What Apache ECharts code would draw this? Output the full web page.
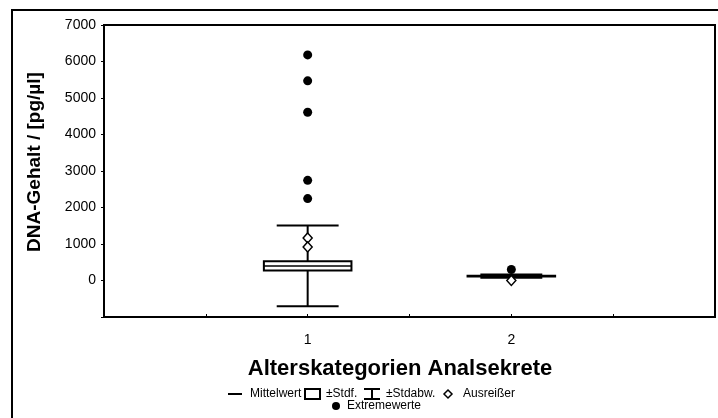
<!DOCTYPE html>
<html>
<head>
<meta charset="utf-8">
<script src="https://cdn.jsdelivr.net/npm/echarts@6/dist/echarts.min.js"></script>
<style>
  html, body { margin: 0; padding: 0; background: #fff; }
  #chart { width: 718px; height: 418px; }
</style>
</head>
<body>
<div id="chart"></div>
<script>
// Age categories (x positions) and their summary statistics, DNA content in pg/µl
const categories = [1, 2];
const means = [400, 120];
const stdErr = [128, 8];
const stdDev = [1105, 45];

// Single points: outliers (open diamonds) and extreme values (filled dots)
const outliers = [[1, 1165], [1, 918], [2, 0]];
const extremes = [[1, 6180], [1, 5470], [1, 4610], [1, 2745], [1, 2245], [2, 300]];

// Axis ranges and tick labels
const yMin = -1000, yMax = 7000, yStep = 1000;
const xMin = 0, xMax = 3, xStep = 0.5;
const xTickLabels = { 1: '1', 2: '2' };

const FONT = 'Liberation Sans, Arial, sans-serif';
const BOX_HALF = 0.215;   // half width of the ±SE box, in category units
const CAP_HALF = 0.152;   // half width of the ±SD whisker caps

const boxData = categories.map((c, i) => [c, means[i], stdErr[i], stdDev[i]]);

function renderBox(params, api) {
  const x = api.value(0), m = api.value(1), se = api.value(2), sd = api.value(3);
  const top = api.coord([x, m + sd]);
  const bot = api.coord([x, m - sd]);
  const capL = api.coord([x - CAP_HALF, m])[0];
  const capR = api.coord([x + CAP_HALF, m])[0];
  const b1 = api.coord([x - BOX_HALF, m + se]);
  const b2 = api.coord([x + BOX_HALF, m - se]);
  const mid = api.coord([x, m]);
  const stroke = { stroke: '#000', lineWidth: 2 };
  return {
    type: 'group',
    children: [
      { type: 'line', shape: { x1: top[0], y1: top[1], x2: bot[0], y2: bot[1] }, style: stroke },
      { type: 'line', shape: { x1: capL, y1: top[1], x2: capR, y2: top[1] }, style: stroke },
      { type: 'line', shape: { x1: capL, y1: bot[1], x2: capR, y2: bot[1] }, style: stroke },
      { type: 'rect', shape: { x: b1[0], y: b1[1], width: b2[0] - b1[0], height: b2[1] - b1[1] },
        style: { fill: '#fff', stroke: '#000', lineWidth: 2 } },
      { type: 'line', shape: { x1: b1[0], y1: mid[1], x2: b2[0], y2: mid[1] }, style: { stroke: '#000', lineWidth: 1.5 } }
    ]
  };
}

const txt = (x, y, text, extra) => ({
  type: 'text', x: x, y: y,
  style: Object.assign({ text: text, font: '12px ' + FONT, fill: '#000', textAlign: 'left', textVerticalAlign: 'middle' }, extra || {})
});

const legendRow1 = 394, legendRow2 = 406;

const chart = echarts.init(document.getElementById('chart'), null, { renderer: 'canvas' });
chart.setOption({
  animation: false,
  backgroundColor: '#fff',
  grid: { left: 104, top: 25, right: 1, bottom: 101, show: true, borderColor: '#000', borderWidth: 2, backgroundColor: 'transparent' },
  xAxis: {
    type: 'value', min: xMin, max: xMax, interval: xStep,
    axisLine: { show: true, onZero: false, lineStyle: { color: '#000', width: 2 } },
    axisTick: { show: true, inside: true, length: 3, lineStyle: { color: '#000' } },
    splitLine: { show: false },
    axisLabel: {
      margin: 16, color: '#000', fontSize: 14, fontFamily: FONT,
      formatter: v => xTickLabels[v] || ''
    }
  },
  yAxis: {
    type: 'value', min: yMin, max: yMax, interval: yStep,
    axisLine: { show: true, onZero: false, lineStyle: { color: '#000', width: 2 } },
    axisTick: { show: true, length: 3, lineStyle: { color: '#000' } },
    splitLine: { show: false },
    axisLabel: {
      margin: 8, color: '#000', fontSize: 14, fontFamily: FONT,
      formatter: v => (v < 0 ? '' : String(v))
    }
  },
  series: [
    { type: 'custom', renderItem: renderBox, data: boxData, z: 2 },
    {
      type: 'scatter', data: outliers, symbol: 'diamond', symbolSize: [9, 10], z: 3,
      itemStyle: { color: '#fff', borderColor: '#000', borderWidth: 1.5, opacity: 1 }
    },
    {
      type: 'scatter', data: extremes, symbol: 'circle', symbolSize: 9, z: 4,
      itemStyle: { color: '#000', opacity: 1 }
    }
  ],
  graphic: [
    // outer frame
    { type: 'rect', shape: { x: 12, y: 10, width: 740, height: 440 }, style: { fill: 'none', stroke: '#000', lineWidth: 2 }, silent: true },
    // axis titles
    { type: 'text', x: 35, y: 162, rotation: Math.PI / 2,
      style: { text: 'DNA-Gehalt / [pg/µl]', font: 'bold 19px ' + FONT, fill: '#000', textAlign: 'center', textVerticalAlign: 'middle' } },
    { type: 'text', x: 400, y: 369,
      style: { text: 'Alterskategorien Analsekrete', font: 'bold 22px ' + FONT, fill: '#000', textAlign: 'center', textVerticalAlign: 'middle' } },
    // legend row 1
    { type: 'line', shape: { x1: 228, y1: legendRow1, x2: 242, y2: legendRow1 }, style: { stroke: '#000', lineWidth: 2 } },
    txt(250, legendRow1, 'Mittelwert'),
    { type: 'rect', shape: { x: 305, y: legendRow1 - 5, width: 15, height: 10 }, style: { fill: '#fff', stroke: '#000', lineWidth: 2 } },
    txt(326, legendRow1, '±Stdf.'),
    { type: 'line', shape: { x1: 364, y1: legendRow1 - 5, x2: 380, y2: legendRow1 - 5 }, style: { stroke: '#000', lineWidth: 2 } },
    { type: 'line', shape: { x1: 364, y1: legendRow1 + 5, x2: 380, y2: legendRow1 + 5 }, style: { stroke: '#000', lineWidth: 2 } },
    { type: 'line', shape: { x1: 372, y1: legendRow1 - 5, x2: 372, y2: legendRow1 + 5 }, style: { stroke: '#000', lineWidth: 2 } },
    txt(386, legendRow1, '±Stdabw.'),
    { type: 'polygon', shape: { points: [[448, legendRow1 - 4], [452, legendRow1], [448, legendRow1 + 4], [444, legendRow1]] },
      style: { fill: '#fff', stroke: '#000', lineWidth: 1.5 } },
    txt(463, legendRow1, 'Ausreißer'),
    // legend row 2
    { type: 'circle', shape: { cx: 336, cy: legendRow2, r: 4 }, style: { fill: '#000' } },
    txt(347, legendRow2, 'Extremewerte')
  ]
});
</script>
</body>
</html>
